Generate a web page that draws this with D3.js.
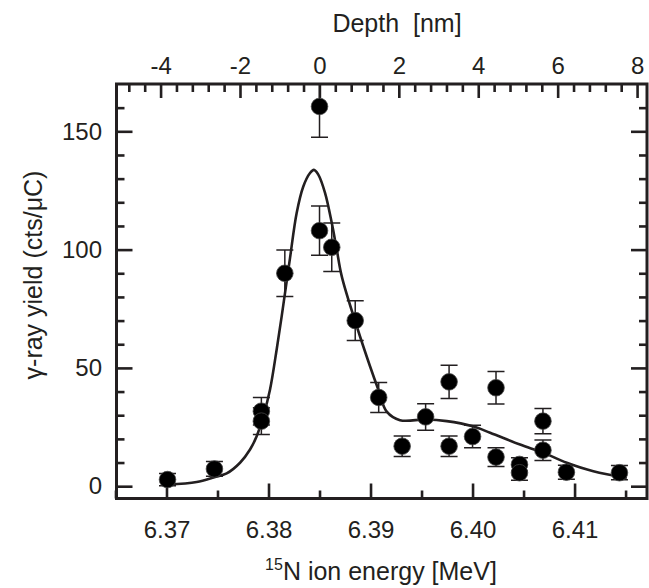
<!DOCTYPE html>
<html>
<head>
<meta charset="utf-8">
<script src="https://cdn.jsdelivr.net/npm/d3@7"></script>
<style>
  html, body { margin: 0; padding: 0; background: #fff; }
  svg { display: block; font-family: "Liberation Sans", Arial, sans-serif; }
</style>
</head>
<body>
<svg id="chart" width="649" height="588"></svg>
<script>
// ---- data ----
const energy = [6.3701, 6.3747, 6.3793, 6.3793, 6.3816, 6.3850, 6.3850, 6.3862, 6.3885, 6.3908,
                6.3931, 6.3954, 6.3977, 6.3977, 6.4000, 6.4023, 6.4023, 6.4046, 6.4046, 6.4069,
                6.4069, 6.4092, 6.4144];
const yieldVal = [2.8, 7.3, 31.7, 27.5, 90, 160.5, 108, 101, 70, 37.5,
                  16.9, 29.3, 44.1, 16.9, 21.0, 41.6, 12.3, 9.2, 5.7, 27.5,
                  15.2, 5.9, 5.7];
const yieldErr = [2.6, 3.1, 5.8, 5.7, 9.8, 13, 10.4, 10.2, 8.4, 6.3,
                  4.3, 5.6, 7.0, 4.3, 4.8, 6.9, 4.0, 2.8, 3.2, 5.3,
                  4.3, 3.0, 3.0];

const fitEnergy = [6.37012, 6.37296, 6.37469, 6.37590, 6.37721, 6.37819, 6.37884, 6.37949, 6.38015,
                   6.38080, 6.38129, 6.38162, 6.38211, 6.38276, 6.38341, 6.38407, 6.38445, 6.38488,
                   6.38554, 6.38620, 6.38669, 6.38718, 6.38865, 6.38995, 6.39076, 6.39159, 6.39289,
                   6.39541, 6.39747, 6.40002, 6.40172, 6.40466, 6.40694, 6.40924, 6.41184, 6.41512];
const fitYield = [0.7, 1.8, 3.8, 5.4, 9.9, 15.5, 21.1, 29.6, 40.9,
                  57.8, 71.8, 81.7, 96.5, 115.5, 126.7, 132.4, 133.7, 131.7,
                  124, 111.3, 100, 88.7, 67.6, 50.7, 40.9, 31.5, 27.9,
                  28.2, 27.5, 25.3, 22.6, 17.6, 14.1, 9.9, 6.3, 3.5];

const energyTicks = [6.37, 6.38, 6.39, 6.40, 6.41];
const energyMinor = [6.365, 6.375, 6.385, 6.395, 6.405, 6.415];
const depthTicks = [-4, -2, 0, 2, 4, 6, 8];
const depthMinor = [-4.8, -4.4, -3.6, -3.2, -2.8, -2.4, -1.6, -1.2, -0.8, -0.4,
                    0.4, 0.8, 1.2, 1.6, 2.4, 2.8, 3.2, 3.6, 4.4, 4.8, 5.2, 5.6,
                    6.4, 6.8, 7.2, 7.6];
const yieldTicks = [0, 50, 100, 150];
const yieldMinor = [10, 20, 30, 40, 60, 70, 80, 90, 110, 120, 130, 140, 160];

// ---- layout ----
const L = 116.5, R = 647, T = 84, B = 498.5;
const ink = "#231f20";
const svg = d3.select("#chart");

const x = d3.scaleLinear().domain([6.3651, 6.4171]).range([L, R]);
const xTop = d3.scaleLinear().domain([-5.11, 8.25]).range([L, R]);
const y = d3.scaleLinear().domain([-5.2, 170]).range([B, T]);

svg.append("defs").append("clipPath").attr("id", "clip")
  .append("rect").attr("x", L).attr("y", T).attr("width", R - L).attr("height", B - T);

function styleAxis(g, fs) {
  g.select(".domain").remove();
  g.selectAll(".tick line").attr("stroke", ink).attr("stroke-width", 2.6);
  g.selectAll(".tick text").attr("fill", ink).style("font-size", fs + "px")
    .style("font-family", "'Liberation Sans', Arial, sans-serif");
}

// bottom axis
svg.append("g").attr("transform", `translate(0,${B})`)
  .call(d3.axisBottom(x).tickValues(energyTicks).tickSize(-15).tickPadding(22)
        .tickFormat(d3.format(".2f")))
  .call(g => styleAxis(g, 24));
svg.append("g").attr("transform", `translate(0,${B})`)
  .call(d3.axisBottom(x).tickValues(energyMinor).tickSize(-8).tickFormat(""))
  .call(g => styleAxis(g, 24));

// top axis
svg.append("g").attr("transform", `translate(0,${T})`)
  .call(d3.axisTop(xTop).tickValues(depthTicks).tickSize(-14).tickPadding(10.5)
        .tickFormat(d => d < 0 ? "-" + Math.abs(d) : String(d)))
  .call(g => styleAxis(g, 24));
svg.append("g").attr("transform", `translate(0,${T})`)
  .call(d3.axisTop(xTop).tickValues(depthMinor).tickSize(-8).tickFormat(""))
  .call(g => styleAxis(g, 24));

// left axis
svg.append("g").attr("transform", `translate(${L},0)`)
  .call(d3.axisLeft(y).tickValues(yieldTicks).tickSize(-16).tickPadding(14.5))
  .call(g => styleAxis(g, 24));
svg.append("g").attr("transform", `translate(${L},0)`)
  .call(d3.axisLeft(y).tickValues(yieldMinor).tickSize(-8).tickFormat(""))
  .call(g => styleAxis(g, 24));

// right axis
svg.append("g").attr("transform", `translate(${R},0)`)
  .call(d3.axisRight(y).tickValues(yieldTicks).tickSize(-16).tickFormat(""))
  .call(g => styleAxis(g, 24));
svg.append("g").attr("transform", `translate(${R},0)`)
  .call(d3.axisRight(y).tickValues(yieldMinor).tickSize(-8).tickFormat(""))
  .call(g => styleAxis(g, 24));

// frame
svg.append("rect").attr("x", L).attr("y", T).attr("width", R - L).attr("height", B - T)
  .attr("fill", "none").attr("stroke", ink).attr("stroke-width", 3);

const plot = svg.append("g").attr("clip-path", "url(#clip)");

// fit curve
const fitData = fitEnergy.map((e, i) => [e, fitYield[i]]);
plot.append("path").datum(fitData)
  .attr("fill", "none").attr("stroke", ink).attr("stroke-width", 2.6)
  .attr("d", d3.line().x(d => x(d[0])).y(d => y(d[1])).curve(d3.curveCatmullRom.alpha(0.5)));

// data points with error bars
const pts = energy.map((e, i) => ({ e, v: yieldVal[i], err: yieldErr[i] }));
const eb = plot.append("g").attr("stroke", ink).attr("stroke-width", 1.5);
eb.selectAll("line.v").data(pts).join("line").attr("class", "v")
  .attr("x1", d => x(d.e)).attr("x2", d => x(d.e))
  .attr("y1", d => y(d.v - d.err)).attr("y2", d => y(d.v + d.err));
eb.selectAll("line.t").data(pts).join("line").attr("class", "t")
  .attr("x1", d => x(d.e) - 8.5).attr("x2", d => x(d.e) + 8.5)
  .attr("y1", d => y(d.v + d.err)).attr("y2", d => y(d.v + d.err));
eb.selectAll("line.b").data(pts).join("line").attr("class", "b")
  .attr("x1", d => x(d.e) - 8.5).attr("x2", d => x(d.e) + 8.5)
  .attr("y1", d => y(d.v - d.err)).attr("y2", d => y(d.v - d.err));

plot.append("g").selectAll("circle").data(pts).join("circle")
  .attr("cx", d => x(d.e)).attr("cy", d => y(d.v)).attr("r", 8.3)
  .attr("fill", "#000").attr("stroke", "#444").attr("stroke-width", 0.8);

// axis titles
svg.append("text").attr("x", 397).attr("y", 32)
  .attr("text-anchor", "middle").attr("fill", ink).style("font-size", "25px")
  .text("Depth\u00a0\u00a0[nm]");

const xt = svg.append("text").attr("x", 381).attr("y", 580)
  .attr("text-anchor", "middle").attr("fill", ink).style("font-size", "25px");
xt.append("tspan").attr("dy", "-10").style("font-size", "16px").text("15");
xt.append("tspan").attr("dy", "10").text("N ion energy [MeV]");

svg.append("text").attr("transform", "translate(42,275) rotate(-90)")
  .attr("text-anchor", "middle").attr("fill", ink).style("font-size", "25px")
  .text("\u03b3-ray yield (cts/\u03bcC)");
</script>
</body>
</html>
